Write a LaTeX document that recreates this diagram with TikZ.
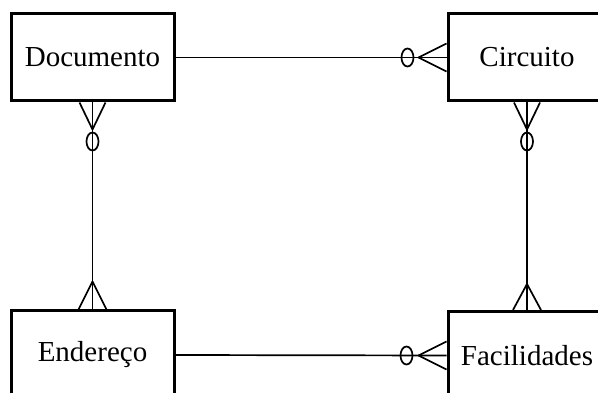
\documentclass[tikz,border=0pt]{standalone}
\usepackage{fontspec}
\setmainfont{Liberation Serif}
\begin{document}
\begin{tikzpicture}[x=1pt,y=-1pt,
	entity/.style={draw,line width=3pt,minimum width=163pt,minimum height=87pt,inner sep=0pt,font=\fontsize{29}{34}\selectfont},
	rel/.style={line width=1.7pt}]
		\clip (0,0) rectangle (598,393);

		\draw (92.5,57.5) node (doc)[entity]{Documento};
		\draw (527,57.5) node (circ)[entity,minimum width=158pt]{Circuito};
		\draw (92.5,355) node (end)[entity,minimum height=88pt]{Endereço};
		\draw (527,355.5) node (fac)[entity,minimum width=158pt,minimum height=88pt]{Facilidades};

		% Documento -- Circuito
		\draw[rel] (doc.east)--(circ.west);
		\draw[rel] (circ.west) ++(-28,0) -- ++(28,-14);
		\draw[rel] (circ.west) ++(-28,0) -- ++(28,14);
		\draw[rel] (circ.west) ++(-39,0) circle[x radius=6pt,y radius=9pt];

		% Endereco -- Facilidades
		\draw[rel] (end.east)--(fac.west);
		\draw[rel] (fac.west) ++(-28,0) -- ++(28,-14);
		\draw[rel] (fac.west) ++(-28,0) -- ++(28,14);
		\draw[rel] (fac.west) ++(-40,0) circle[x radius=6pt,y radius=9pt];

		% Documento -- Endereco
		\draw[rel] (doc.south)--(end.north);
		\draw[rel] (doc.south) ++(0,27) -- ++(-13,-27);
		\draw[rel] (doc.south) ++(0,27) -- ++(13,-27);
		\draw[rel] (doc.south) ++(0,39) circle[x radius=6pt,y radius=9pt];
		\draw[rel] (end.north) ++(0,-28) -- ++(-14,28);
		\draw[rel] (end.north) ++(0,-28) -- ++(14,28);

		% Circuito -- Facilidades
		\draw[rel] (circ.south)--(fac.north);
		\draw[rel] (circ.south) ++(0,27) -- ++(-13,-27);
		\draw[rel] (circ.south) ++(0,27) -- ++(13,-27);
		\draw[rel] (circ.south) ++(0,39) circle[x radius=6pt,y radius=9pt];
		\draw[rel] (fac.north) ++(0,-26) -- ++(-14,26);
		\draw[rel] (fac.north) ++(0,-26) -- ++(14,26);
	\end{tikzpicture}
\end{document}
